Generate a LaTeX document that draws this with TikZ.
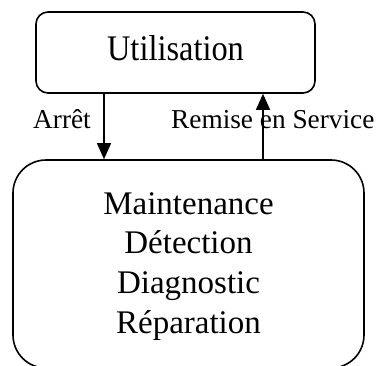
\documentclass[tikz,border=0pt]{standalone}
\usepackage{fontspec}
\setmainfont{Liberation Serif}
\usetikzlibrary{arrows.meta}
\begin{document}
\begin{tikzpicture}[x=1pt,y=-1pt,
  boxstyle/.style={draw, line width=1.6pt, rectangle, inner sep=0pt},
  txt/.style={inner sep=0pt, anchor=base},
  lbl/.style={inner sep=0pt, anchor=base west, font=\fontsize{27.3}{32}\selectfont},
  big/.style={font=\fontsize{33}{40}\selectfont},
  arr/.style={line width=1.4pt, -{Triangle[length=16pt,width=14pt]}}]
\useasboundingbox (0,0) rectangle (378,365);
\node[boxstyle, rounded corners=12pt, minimum width=279pt, minimum height=81pt] (U) at (175.5,52.5) {};
\node[txt, font=\fontsize{36}{40}\selectfont] (Ut) at (175.5,60) {\scalebox{0.9}[1]{Utilisation}};
\node[boxstyle, rounded corners=33pt, minimum width=351pt, minimum height=208pt] (M) at (188.5,264) {};
\node[txt, big] (m1) at (188.5,214) {Maintenance};
\node[txt, big] (m2) at (188.5,253.5) {Détection};
\node[txt, big] (m3) at (188.5,293.5) {Diagnostic};
\node[txt, big] (m4) at (188.5,333) {Réparation};
\node[lbl] (la) at (33,128) {Arrêt};
\node[lbl] (lr) at (171,128) {Remise en Service};
\coordinate (xa) at (104,0);
\coordinate (xr) at (263,0);
\draw[arr] (U.south -| xa) -- (M.north -| xa);
\draw[arr] (M.north -| xr) -- (U.south -| xr);
\end{tikzpicture}
\end{document}
